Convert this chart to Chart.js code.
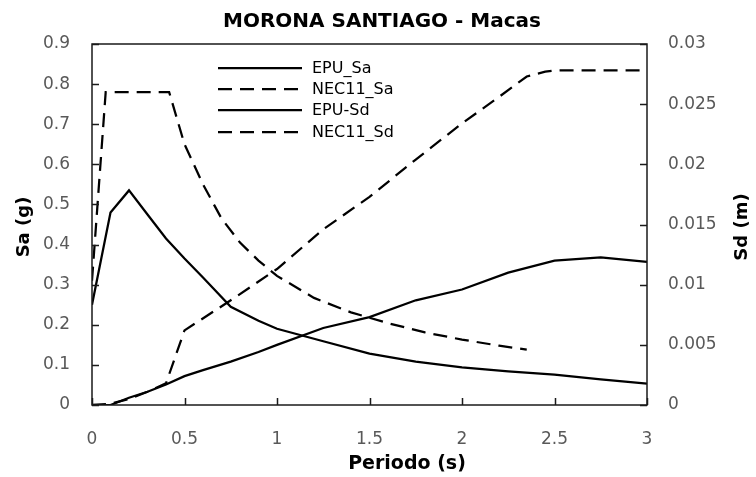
<!DOCTYPE html>
<html>
<head>
<meta charset="utf-8">
<title>MORONA SANTIAGO - Macas</title>
<script src="https://cdn.jsdelivr.net/npm/chart.js@4.4.1/dist/chart.umd.min.js"></script>
<style>
  html, body { margin: 0; padding: 0; background: #ffffff; }
  #wrap { width: 756px; height: 477px; }
</style>
</head>
<body>
<div id="wrap"><canvas id="spectra" width="756" height="477"></canvas></div>
<script>
// Spectra for Macas (Morona Santiago): EPU hazard vs. NEC-11 design spectrum
const chartTitle = 'MORONA SANTIAGO - Macas';
const xTitle = 'Periodo (s)';
const saTitle = 'Sa (g)';
const sdTitle = 'Sd (m)';

// EPU spectra (period in s)
const epuPeriods = [0, 0.1, 0.2, 0.3, 0.4, 0.5, 0.6, 0.75, 0.9, 1.0, 1.25, 1.5, 1.75, 2.0, 2.25, 2.5, 2.75, 3.0];
const epuSa = [0.25, 0.48, 0.535, 0.475, 0.415, 0.365, 0.318, 0.245, 0.21, 0.19, 0.159, 0.128, 0.108, 0.094, 0.084, 0.076, 0.064, 0.053];
const epuSd = [0, 0, 0.0006, 0.0011, 0.0017, 0.0024, 0.0029, 0.0036, 0.0044, 0.0050, 0.0064, 0.0073, 0.0087, 0.0096, 0.0110, 0.0120, 0.01227, 0.0119];

// NEC-11 spectra
const necSaPeriods = [0, 0.074, 0.417, 0.5, 0.6, 0.7, 0.8, 0.9, 1.0, 1.2, 1.4, 1.6, 1.8, 2.0, 2.2, 2.35];
const necSa = [0.31, 0.78, 0.78, 0.65, 0.55, 0.465, 0.405, 0.36, 0.322, 0.267, 0.231, 0.204, 0.181, 0.163, 0.148, 0.138];
const necSdPeriods = [0, 0.1, 0.2, 0.3, 0.4, 0.5, 0.75, 1.0, 1.25, 1.5, 1.75, 2.0, 2.2, 2.35, 2.45, 2.5, 2.75, 3.0];
const necSd = [0, 0.0001, 0.0005, 0.0011, 0.0018, 0.0062, 0.0087, 0.0113, 0.0146, 0.0173, 0.0204, 0.0234, 0.0256, 0.0273, 0.0277, 0.0278, 0.0278, 0.0278];

// Axis ticks
const periodTicks = [0, 0.5, 1, 1.5, 2, 2.5, 3];
const periodTickLabels = ['0', '0.5', '1', '1.5', '2', '2.5', '3'];
const saTicks = [0, 0.1, 0.2, 0.3, 0.4, 0.5, 0.6, 0.7, 0.8, 0.9];
const saTickLabels = ['0', '0.1', '0.2', '0.3', '0.4', '0.5', '0.6', '0.7', '0.8', '0.9'];
const sdTicks = [0, 0.005, 0.01, 0.015, 0.02, 0.025, 0.03];
const sdTickLabels = ['0', '0.005', '0.01', '0.015', '0.02', '0.025', '0.03'];

const pairs = (xs, ys) => xs.map((x, i) => ({ x: x, y: ys[i] }));

const FONT = 'DejaVu Sans';
const INK = '#000000';
const TICK_INK = '#595959';
const DASH = [14, 8];

// Frame around the plot and inward tick marks
const framePlugin = {
  id: 'frame',
  afterDatasetsDraw(chart) {
    const { ctx, chartArea: a, scales } = chart;
    ctx.save();
    ctx.strokeStyle = '#1a1a1a';
    ctx.lineWidth = 1.5;
    ctx.strokeRect(a.left, a.top, a.right - a.left, a.bottom - a.top);
    const len = 7;
    ctx.beginPath();
    scales.x.ticks.forEach(t => {
      const px = Math.round(scales.x.getPixelForValue(t.value)) + 0.5;
      ctx.moveTo(px, a.bottom); ctx.lineTo(px, a.bottom - len);
    });
    scales.ySa.ticks.forEach(t => {
      const py = Math.round(scales.ySa.getPixelForValue(t.value)) + 0.5;
      ctx.moveTo(a.left, py); ctx.lineTo(a.left + len, py);
    });
    scales.ySd.ticks.forEach(t => {
      const py = Math.round(scales.ySd.getPixelForValue(t.value)) + 0.5;
      ctx.moveTo(a.right, py); ctx.lineTo(a.right - len, py);
    });
    ctx.stroke();
    ctx.restore();
  }
};

// Legend drawn inside the plot area
const insideLegend = {
  id: 'insideLegend',
  afterDraw(chart) {
    const { ctx } = chart;
    const rows = [68, 89, 110, 132];
    ctx.save();
    ctx.font = '16px "' + FONT + '"';
    ctx.textBaseline = 'middle';
    ctx.textAlign = 'left';
    chart.data.datasets.forEach((ds, i) => {
      const y = rows[i];
      ctx.beginPath();
      ctx.setLineDash(ds.borderDash || []);
      ctx.lineWidth = ds.borderWidth;
      ctx.strokeStyle = ds.borderColor;
      ctx.moveTo(218, y); ctx.lineTo(302, y);
      ctx.stroke();
      ctx.setLineDash([]);
      ctx.fillStyle = INK;
      ctx.fillText(ds.label, 312, y + 1);
    });
    ctx.restore();
  }
};

// Chart title and axis titles
const titlesPlugin = {
  id: 'titles',
  afterDraw(chart) {
    const { ctx } = chart;
    ctx.save();
    ctx.fillStyle = INK;
    ctx.textAlign = 'center';
    ctx.textBaseline = 'alphabetic';
    ctx.font = 'bold 20px "' + FONT + '"';
    ctx.fillText(chartTitle, 382, 26.5);
    ctx.font = 'bold 19px "' + FONT + '"';
    ctx.fillText(xTitle, 407, 469);
    ctx.font = 'bold 18px "' + FONT + '"';
    ctx.textBaseline = 'middle';
    ctx.translate(24, 227);
    ctx.rotate(-Math.PI / 2);
    ctx.fillText(saTitle, 0, 0);
    ctx.restore();
    ctx.save();
    ctx.fillStyle = INK;
    ctx.textAlign = 'center';
    ctx.textBaseline = 'middle';
    ctx.font = 'bold 18px "' + FONT + '"';
    ctx.translate(742, 227);
    ctx.rotate(-Math.PI / 2);
    ctx.fillText(sdTitle, 0, 0);
    ctx.restore();
  }
};

const lineStyle = { borderColor: INK, borderWidth: 2.25, pointRadius: 0, tension: 0, fill: false };

new Chart(document.getElementById('spectra'), {
  type: 'line',
  data: {
    datasets: [
      Object.assign({ label: 'EPU_Sa', data: pairs(epuPeriods, epuSa), yAxisID: 'ySa' }, lineStyle),
      Object.assign({ label: 'NEC11_Sa', data: pairs(necSaPeriods, necSa), yAxisID: 'ySa', borderDash: DASH }, lineStyle),
      Object.assign({ label: 'EPU-Sd', data: pairs(epuPeriods, epuSd), yAxisID: 'ySd' }, lineStyle),
      Object.assign({ label: 'NEC11_Sd', data: pairs(necSdPeriods, necSd), yAxisID: 'ySd', borderDash: DASH }, lineStyle)
    ]
  },
  options: {
    responsive: false,
    animation: false,
    devicePixelRatio: 1,
    layout: { padding: { top: 44, left: 0, right: 0, bottom: 0 } },
    plugins: { legend: { display: false }, title: { display: false }, tooltip: { enabled: false } },
    scales: {
      x: {
        type: 'linear', position: 'bottom', min: 0, max: 3,
        grid: { display: false, drawTicks: false },
        border: { display: false },
        afterBuildTicks: s => { s.ticks = periodTicks.map(v => ({ value: v })); },
        afterFit: s => { s.height = 72; },
        ticks: {
          font: { family: FONT, size: 17 }, color: TICK_INK, padding: 24, maxRotation: 0,
          callback: (v, i) => periodTickLabels[i]
        }
      },
      ySa: {
        type: 'linear', position: 'left', min: 0, max: 0.9,
        grid: { display: false, drawTicks: false },
        border: { display: false },
        afterBuildTicks: s => { s.ticks = saTicks.map(v => ({ value: v })); },
        afterFit: s => { s.width = 92; },
        ticks: {
          font: { family: FONT, size: 17 }, color: TICK_INK, padding: 22,
          callback: (v, i) => saTickLabels[i]
        }
      },
      ySd: {
        type: 'linear', position: 'right', min: 0, max: 0.03,
        grid: { display: false, drawTicks: false },
        border: { display: false },
        afterBuildTicks: s => { s.ticks = sdTicks.map(v => ({ value: v })); },
        afterFit: s => { s.width = 109; },
        ticks: {
          font: { family: FONT, size: 17 }, color: TICK_INK, padding: 21,
          callback: (v, i) => sdTickLabels[i]
        }
      }
    }
  },
  plugins: [framePlugin, insideLegend, titlesPlugin]
});
</script>
</body>
</html>
